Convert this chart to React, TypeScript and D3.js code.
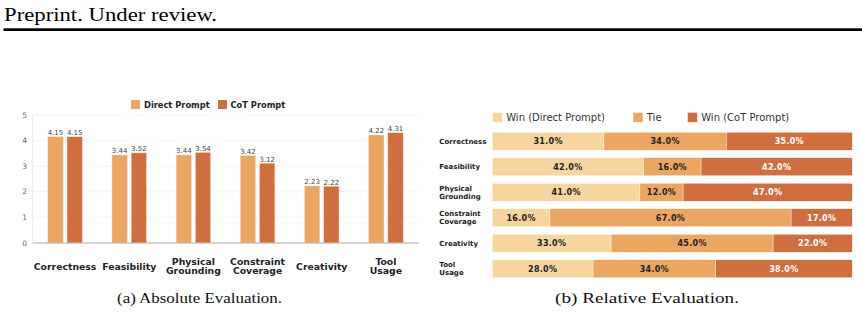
import React from 'react'
import * as d3 from 'd3'

const categories = ['Correctness', 'Feasibility', 'Physical Grounding', 'Constraint Coverage', 'Creativity', 'Tool Usage']
const directScores = [4.15, 3.44, 3.44, 3.42, 2.23, 4.22]
const cotScores = [4.15, 3.52, 3.54, 3.12, 2.22, 4.31]
const yTicks = [0, 1, 2, 3, 4, 5]

const winDirect = [31, 42, 41, 16, 33, 28]
const tie = [34, 16, 12, 67, 45, 34]
const winCot = [35, 42, 47, 17, 22, 38]

const C_LIGHT = '#f6d69e'
const C_MID = '#eba662'
const C_DARK = '#cf6f3f'
const SANS = '"DejaVu Sans", sans-serif'
const SERIF = '"Liberation Serif", serif'

function wrap(label: string) {
  const parts = label.split(' ')
  return parts.length > 1 ? parts : [label]
}

function AbsoluteChart() {
  const x = d3.scaleBand<string>().domain(categories).range([33, 418])
  const sub = d3.scaleBand<string>().domain(['direct', 'cot']).range([-17.3, 17.3]).paddingInner(0.2)
  const y = d3.scaleLinear().domain([0, 5]).range([243, 115])
  const series = [
    { key: 'direct', vals: directScores, color: C_MID },
    { key: 'cot', vals: cotScores, color: C_DARK },
  ]

  return (
    <g>
      {yTicks.map(t => (
        <g key={t}>
          {t > 0 && <line x1={33} x2={418} y1={y(t)} y2={y(t)} stroke="#f0f0f0" strokeWidth={0.8} />}
          <text x={27} y={y(t)} dy="0.35em" textAnchor="end" fontSize={7.5} fill="#666" fontFamily={SANS}>{t}</text>
        </g>
      ))}
      <line x1={32.7} x2={32.7} y1={y(5)} y2={y(0)} stroke="#e2e2e2" strokeWidth={0.8} />
      {series.map(s =>
        categories.map((c, i) => {
          const cx = x(c)! + x.bandwidth() / 2
          const bx = cx + sub(s.key)!
          return (
            <g key={s.key + c}>
              <rect x={bx} y={y(s.vals[i])} width={sub.bandwidth()} height={y(0) - y(s.vals[i])}
                fill={s.color} stroke="#fbe3d2" strokeWidth={0.5} />
              <text x={bx + sub.bandwidth() / 2} y={y(s.vals[i]) - 1.5} textAnchor="middle"
                fontSize={7} fill="#444" fontFamily={SANS}>{s.vals[i].toFixed(2)}</text>
            </g>
          )
        })
      )}
      <line x1={32.7} x2={419} y1={y(0)} y2={y(0)} stroke="#aaa" strokeWidth={1.2} />
      {categories.map(c => {
        const lines = wrap(c)
        const cx = x(c)! + x.bandwidth() / 2
        return (
          <text key={c} x={cx} textAnchor="middle" fontSize={9.3} fontWeight="bold" fill="#222" fontFamily={SANS}>
            {lines.length === 1
              ? <tspan x={cx} y={269.5}>{c}</tspan>
              : lines.map((l, k) => <tspan key={k} x={cx} y={264.5 + k * 9.5}>{l}</tspan>)}
          </text>
        )
      })}
      {/* legend */}
      <rect x={131} y={100} width={9} height={9} fill={C_MID} />
      <text x={144} y={108} fontSize={8.3} fontWeight="bold" fill="#222" fontFamily={SANS}>Direct Prompt</text>
      <rect x={218} y={100} width={9} height={9} fill={C_DARK} />
      <text x={230.5} y={108} fontSize={8.3} fontWeight="bold" fill="#222" fontFamily={SANS}>CoT Prompt</text>
    </g>
  )
}

function RelativeChart() {
  const x = d3.scaleLinear().domain([0, 100]).range([492.3, 852.3])
  const y = d3.scaleBand<string>().domain(categories).range([128.5, 281.5]).paddingInner(0.294).paddingOuter(0.147)
  const stacks = categories.map((c, i) => {
    const vals = [winDirect[i], tie[i], winCot[i]]
    const cum = d3.cumsum(vals)
    return vals.map((v, k) => ({ v, start: cum[k] - v, end: cum[k] }))
  })
  const colors = [C_LIGHT, C_MID, C_DARK]
  const textColors = ['#222', '#222', '#fff']
  const legend = [
    { label: 'Win (Direct Prompt)', x: 492.7, color: C_LIGHT },
    { label: 'Tie', x: 633.3, color: C_MID },
    { label: 'Win (CoT Prompt)', x: 687.7, color: C_DARK },
  ]

  return (
    <g>
      {legend.map(l => (
        <g key={l.label}>
          <rect x={l.x} y={112.7} width={9.5} height={9.5} fill={l.color} />
          <text x={l.x + 13.5} y={121} fontSize={10} fill="#333" fontFamily={SANS}>{l.label}</text>
        </g>
      ))}
      {categories.map((c, i) => {
        const y0 = y(c)!
        const cy = y0 + y.bandwidth() / 2
        const lines = wrap(c)
        return (
          <g key={c}>
            {stacks[i].map((s, k) => (
              <g key={k}>
                <rect x={x(s.start)} y={y0} width={x(s.end) - x(s.start)} height={y.bandwidth()}
                  fill={colors[k]} stroke="#fff" strokeWidth={0.4} />
                <text x={(x(s.start) + x(s.end)) / 2} y={cy} dy="0.36em" textAnchor="middle"
                  fontSize={8} fontWeight="bold" fill={textColors[k]} fontFamily={SANS}
                  letterSpacing={0.3}>{s.v.toFixed(1)}%</text>
              </g>
            ))}
            <text x={439.3} fontSize={7} fontWeight="bold" fill="#222" fontFamily={SANS}>
              {lines.length === 1
                ? <tspan x={439.3} y={cy} dy="0.36em">{c}</tspan>
                : lines.map((l, k) => <tspan key={k} x={439.3} y={cy - 4 + k * 8} dy="0.36em">{l}</tspan>)}
            </text>
          </g>
        )
      })}
    </g>
  )
}

export default function App() {
  return (
    <div>
      <style>{'body{margin:0}'}</style>
      <svg width={862} height={334} style={{ display: 'block', background: '#fff' }}>
        <text x={4} y={21} fontSize={18} fontFamily={SERIF} fill="#000" textLength={213} lengthAdjust="spacingAndGlyphs">Preprint. Under review.</text>
        <rect x={3.5} y={28.3} width={858.5} height={2.7} fill="#000" />
        <AbsoluteChart />
        <RelativeChart />
        <text x={117} y={303} fontSize={15.5} fontFamily={SERIF} fill="#111" textLength={165} lengthAdjust="spacingAndGlyphs">(a) Absolute Evaluation.</text>
        <text x={555} y={303} fontSize={15.5} fontFamily={SERIF} fill="#111" textLength={184} lengthAdjust="spacingAndGlyphs">(b) Relative Evaluation.</text>
      </svg>
    </div>
  )
}
